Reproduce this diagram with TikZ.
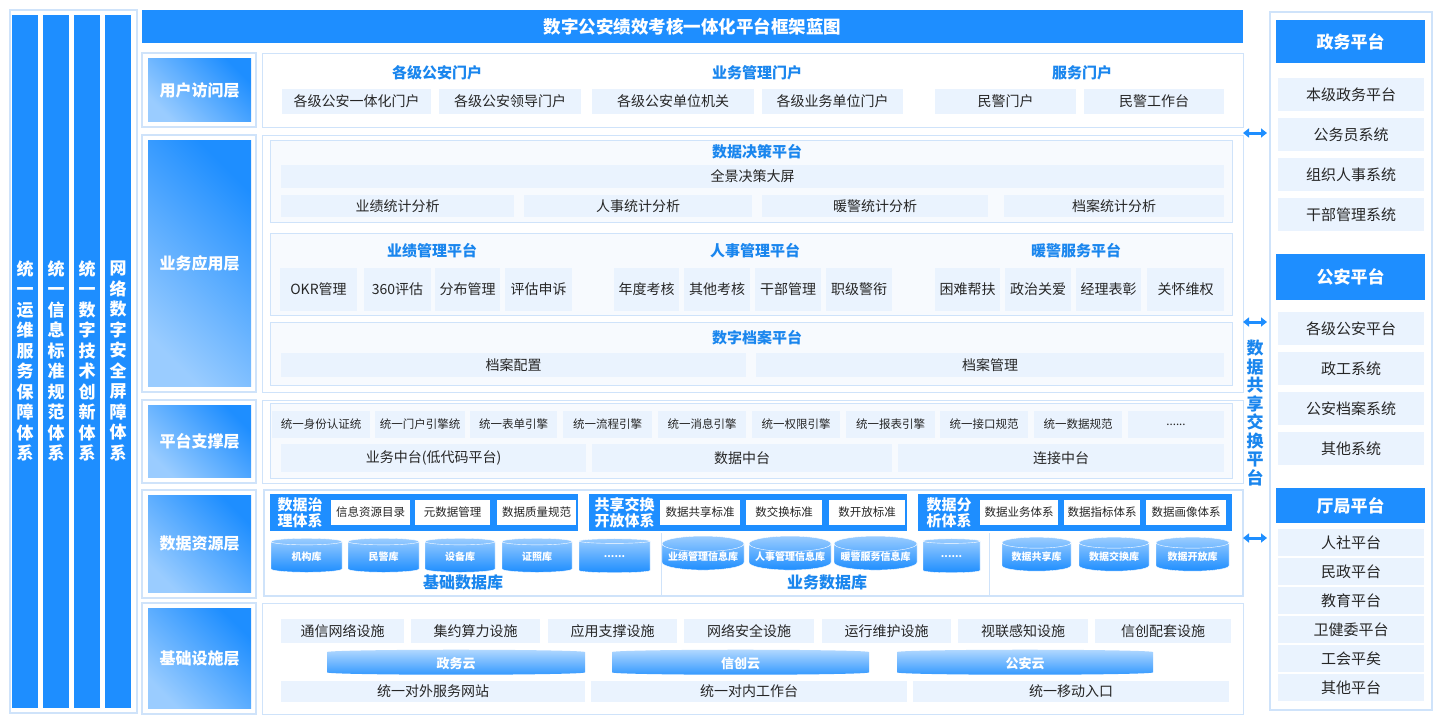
\documentclass[tikz,border=0pt]{standalone}
\usepackage{fontspec}
\setmainfont{Noto Sans CJK SC}
\usetikzlibrary{shapes.geometric,arrows.meta,positioning}
\definecolor{mainblue}{HTML}{1E8EFF}
\definecolor{headblue}{HTML}{1A86EE}
\definecolor{lightbox}{HTML}{EAF3FE}
\definecolor{lineblue}{HTML}{CFE3FA}
\definecolor{panelbg}{HTML}{F7FAFE}
\newcommand{\sixdots}{......}
\tikzset{
  itembox/.style={fill=lightbox,inner sep=0pt,font=\fontsize{14}{16}\selectfont,text=black!85},
  smallbox/.style={itembox,font=\fontsize{11.5}{13}\selectfont},
  whitebox/.style={fill=white,inner sep=0pt,font=\fontsize{11.5}{13}\selectfont,text=black!85},
  grphead/.style={font=\fontsize{15}{17}\selectfont\bfseries,text=headblue},
  panel/.style={draw=lineblue,line width=0.8pt,fill=panelbg},
  frame/.style={draw=lineblue,line width=1.2pt},
  layerlbl/.style={left color=mainblue!45,right color=mainblue,shading angle=135,inner sep=0pt,
    font=\fontsize{16}{18}\selectfont\bfseries,text=white},
  bluebar/.style={fill=mainblue,inner sep=0pt,font=\fontsize{17}{20.5}\selectfont\bfseries,text=white,align=center},
  stripe/.style={fill=mainblue,inner sep=0pt},
  striptitle/.style={inner sep=0pt,font=\fontsize{15}{16}\selectfont\bfseries,text=white,align=center},
  dbcyl/.style={cylinder,shape border rotate=90,aspect=0.22,draw=white,top color=mainblue!45,bottom color=mainblue,
    inner sep=0pt,font=\fontsize{10}{12}\selectfont\bfseries,text=white},
  cloud/.style={cylinder,shape border rotate=90,aspect=0.12,top color=mainblue!35,bottom color=mainblue!90,
    inner sep=0pt,font=\fontsize{13}{15}\selectfont\bfseries,text=white},
  rhead/.style={fill=mainblue,inner sep=0pt,minimum width=149pt,font=\fontsize{17}{19}\selectfont\bfseries,text=white},
  ritem/.style={itembox,minimum width=146pt,font=\fontsize{15}{17}\selectfont},
  biarrow/.style={{Triangle[width=9pt,length=6pt]}-{Triangle[width=9pt,length=6pt]},line width=3pt,mainblue}
}
\begin{document}
\begin{tikzpicture}[x=1pt,y=-1pt]
\useasboundingbox[fill=white] (0,0) rectangle (1440,720);
% left systems
\draw[frame] (10,10) rectangle (137,713);
\foreach \a/\t [count=\i] in {12/统\\一\\运\\维\\服\\务\\保\\障\\体\\系,43/统\\一\\信\\息\\标\\准\\规\\范\\体\\系,
  74/统\\一\\数\\字\\技\\术\\创\\新\\体\\系,105/网\\络\\数\\字\\安\\全\\屏\\障\\体\\系}
  \node[bluebar,minimum width=26pt,minimum height=693pt] (sys\i) at (\a+13,361) {\t};
% title
\node[fill=mainblue,minimum width=1101pt,minimum height=33pt,inner sep=0pt,
  font=\fontsize{17.5}{19}\selectfont\bfseries,text=white] (title) at (692.5,26.5) {数字公安绩效考核一体化平台框架蓝图};
% layer labels
\foreach \ya/\yb/\t [count=\i] in {53/127/用户访问层,135/392/业务应用层,400/483/平台支撑层,490/598/数据资源层,603/714/基础设施层}{
  \draw[frame] (142,\ya) rectangle (256,\yb);
  \node[layerlbl,minimum width=103pt,minimum height={(\yb-\ya-11)*1pt}] (lay\i) at (199.5,{(\ya+\yb)/2}) {\t};
}
% user access layer
\draw[frame,line width=0.6pt] (262,53) rectangle (1243,127);
\node[grphead] (uh1) at (437,73) {各级公安门户};
\node[grphead] (uh2) at (757,73) {业务管理门户};
\node[grphead] (uh3) at (1082,73) {服务门户};
\foreach \a/\b/\t [count=\i] in {282/431/各级公安一体化门户,439/581/各级公安领导门户,592/754/各级公安单位机关,
  762/903/各级业务单位门户,935/1076/民警门户,1084/1224/民警工作台}
  \node[itembox,minimum width={(\b-\a)*1pt},minimum height=25pt] (ua\i) at ({(\a+\b)/2},101.5) {\t};
% business application layer
\draw[frame,line width=0.6pt] (262,135) rectangle (1243,392);
\draw[panel] (270,140) rectangle (1232,222);
\node[grphead] (dh) at (757,152) {数据决策平台};
\node[itembox,minimum width=943pt,minimum height=23pt] (ds0) at (752.5,176.5) {全景决策大屏};
\foreach \a/\b/\t [count=\i] in {281/514/业绩统计分析,524/752/人事统计分析,762/988/暖警统计分析,1004/1224/档案统计分析}
  \node[itembox,minimum width={(\b-\a)*1pt},minimum height=22pt] (ds\i) at ({(\a+\b)/2},206) {\t};
\draw[panel] (270,233) rectangle (1232,315);
\node[grphead] (bh1) at (432,251) {业绩管理平台};
\node[grphead] (bh2) at (755,251) {人事管理平台};
\node[grphead] (bh3) at (1076,251) {暖警服务平台};
\foreach \a/\b/\t [count=\i] in {280/357/OKR管理,364/431/360评估,435/500/分布管理,505/572/评估申诉,
  614/679/年度考核,684/750/其他考核,755/821/干部管理,826/892/职级警衔,
  935/1000/困难帮扶,1005/1071/政治关爱,1076/1141/经理表彰,1147/1224/关怀维权}
  \node[itembox,minimum width={(\b-\a)*1pt},minimum height=43pt] (bm\i) at ({(\a+\b)/2},289.5) {\t};
\draw[panel] (270,322) rectangle (1232,385);
\node[grphead] (ah) at (757,338) {数字档案平台};
\node[itembox,minimum width=465pt,minimum height=24pt] (ar1) at (513.5,365) {档案配置};
\node[itembox,minimum width=468pt,minimum height=24pt] (ar2) at (990,365) {档案管理};
% platform support layer
\draw[frame,line width=0.6pt] (262,400) rectangle (1243,483);
\draw[panel] (270,403) rectangle (1232,478);
\foreach \a/\b/\t [count=\i] in {272/370/统一身份认证统,375/465/统一门户引擎统,470/557/统一表单引擎,563/652/统一流程引擎,
  658/746/统一消息引擎,752/840/统一权限引擎,846/935/统一报表引擎,940/1028/统一接口规范,1034/1122/统一数据规范,1128/1224/\sixdots}
  \node[smallbox,minimum width={(\b-\a)*1pt},minimum height=27pt] (ps\i) at ({(\a+\b)/2},424.5) {\t};
\foreach \a/\b/\t [count=\i] in {281/586/业务中台(低代码平台),592/892/数据中台,898/1224/连接中台}
  \node[itembox,minimum width={(\b-\a)*1pt},minimum height=28pt] (pm\i) at ({(\a+\b)/2},458) {\t};
% data resource layer
\draw[frame] (264,490) rectangle (1243,596);
\foreach \a/\b [count=\i] in {270/578,589/907,918/1232}
  \node[stripe,minimum width={(\b-\a)*1pt},minimum height=37pt] (st\i) at ({(\a+\b)/2},512.5) {};
\node[striptitle] (stt1) at (300,512.5) {数据治\\理体系};
\node[striptitle] (stt2) at (624.5,512.5) {共享交换\\开放体系};
\node[striptitle] (stt3) at (949,512.5) {数据分\\析体系};
\foreach \a/\b/\t [count=\i] in {331/410/信息资源目录,415/490/元数据管理,497/576/数据质量规范,
  660/740/数据共享标准,746/822/数交换标准,829/905/数开放标准,
  980/1058/数据业务体系,1064/1140/数据指标体系,1146/1226/数据画像体系}
  \node[whitebox,minimum width={(\b-\a)*1pt},minimum height=25pt] (sb\i) at ({(\a+\b)/2},512.5) {\t};
\draw[lineblue,line width=0.8pt] (661,533) -- (661,596) (989,533) -- (989,596);
\foreach \a/\b/\t [count=\i] in {271/342/机构库,348/419/民警库,425/495/设备库,502/572/证照库,579/650/\sixdots,
  662/744/业绩管理信息库,749/831/人事管理信息库,834/917/暖警服务信息库,923/980/\sixdots,
  1002/1071/数据共享库,1079/1149/数据交换库,1156/1229/数据开放库}
  \node[dbcyl,minimum width={(\b-\a)*1pt},minimum height=34pt] (db\i) at ({(\a+\b)/2},557) {\t};
\node[grphead,font=\fontsize{16}{18}\selectfont\bfseries] (dbh1) at (463,582) {基础数据库};
\node[grphead,font=\fontsize{16}{18}\selectfont\bfseries] (dbh2) at (827,582) {业务数据库};
% infrastructure layer
\draw[frame,line width=0.6pt] (262,603) rectangle (1243,714);
\foreach \a/\b/\t [count=\i] in {281/404/通信网络设施,411/540/集约算力设施,548/677/应用支撑设施,684/814/网络安全设施,
  822/951/运行维护设施,958/1088/视联感知设施,1095/1231/信创配套设施}
  \node[itembox,minimum width={(\b-\a)*1pt},minimum height=24pt] (in\i) at ({(\a+\b)/2},631) {\t};
\foreach \a/\b/\t [count=\i] in {327/585/政务云,612/869/信创云,897/1153/公安云}
  \node[cloud,minimum width={(\b-\a)*1pt},minimum height=25pt] (cl\i) at ({(\a+\b)/2},663.5) {\t};
\foreach \a/\b/\t [count=\i] in {281/585/统一对外服务网站,591/907/统一对内工作台,913/1229/统一移动入口}
  \node[itembox,minimum width={(\b-\a)*1pt},minimum height=21pt] (en\i) at ({(\a+\b)/2},691) {\t};
% exchange column
\node[grphead,font=\fontsize{17}{18.5}\selectfont\bfseries,align=center] (xch) at (1255,413)
  {数\\据\\共\\享\\交\\换\\平\\台};
\foreach \y [count=\i] in {133,322,538}{
  \coordinate (xl\i) at (1243,\y);
  \coordinate (xr\i) at (1267,\y);
  \draw[biarrow] (xl\i) -- (xr\i);
}
% right platforms
\draw[frame] (1270,12) rectangle (1432,710);
\node[rhead,minimum height=43pt] (rh1) at (1350.5,41.5) {政务平台};
\foreach \y/\t [count=\i] in {94.5/本级政务平台,134.5/公务员系统,174.5/组织人事系统,214.5/干部管理系统}
  \node[ritem,minimum height=33pt] (ra\i) at (1351,\y) {\t};
\node[rhead,minimum height=46pt] (rh2) at (1350.5,277) {公安平台};
\foreach \y/\t [count=\i] in {328.5/各级公安平台,368.5/政工系统,408.5/公安档案系统,448.5/其他系统}
  \node[ritem,minimum height=33pt] (rb\i) at (1351,\y) {\t};
\node[rhead,minimum height=35pt] (rh3) at (1350.5,505.5) {厅局平台};
\foreach \y/\t [count=\i] in {542.5/人社平台,571.5/民政平台,600.5/教育平台,629.5/卫健委平台,658.5/工会平矣,687.5/其他平台}
  \node[ritem,minimum height=27pt] (rc\i) at (1351,\y) {\t};
\end{tikzpicture}
\end{document}
